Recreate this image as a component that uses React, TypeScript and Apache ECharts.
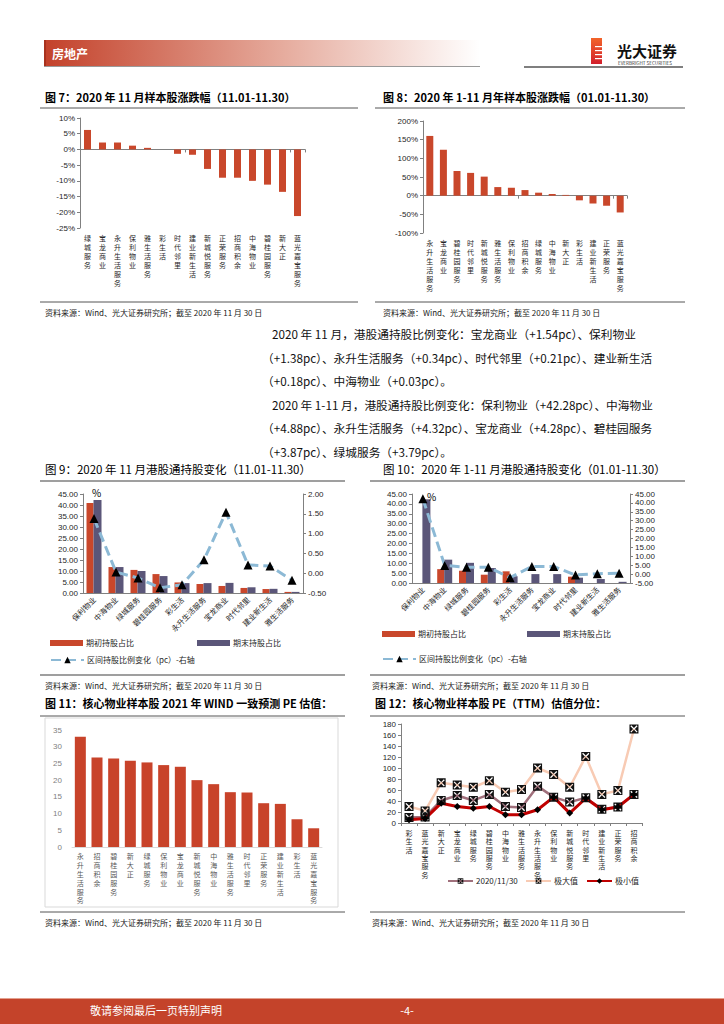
import React, { useEffect, useRef } from 'react';
import * as echarts from 'echarts';

const FONT = '"Noto Sans CJK SC", "Noto Sans", sans-serif';

// ---------- data ----------
const fig7Cats = ['绿城服务', '宝龙商业', '永升生活服务', '保利物业', '雅生活服务', '彩生活', '时代邻里', '建业新生活', '新城悦服务', '正荣服务', '招商积余', '中海物业', '碧桂园服务', '新大正', '蓝光嘉宝服务'];
const fig7Vals = [6.2, 2.2, 2.2, 1.2, 0.5, 0, -1.4, -1.7, -6.2, -9.0, -9.0, -10.0, -11.2, -13.5, -21.2];

const fig8Cats = ['永升生活服务', '宝龙商业', '碧桂园服务', '时代邻里', '新城悦服务', '雅生活服务', '保利物业', '招商积余', '绿城服务', '中海物业', '新大正', '彩生活', '建业新生活', '正荣服务', '蓝光嘉宝服务'];
const fig8Vals = [160, 123, 66, 61, 51, 23, 21, 15, 8, 4.5, 2, -12.5, -21, -27, -45];

const hkCats = ['保利物业', '中海物业', '绿城服务', '碧桂园服务', '彩生活', '永升生活服务', '宝龙商业', '时代邻里', '建业新生活', '雅生活服务'];
const fig9Start = [40.9, 11.8, 10.5, 8.6, 4.8, 4.1, 3.2, 2.3, 1.8, 0.5];
const fig9End = [42.3, 11.8, 10.0, 7.7, 4.5, 4.5, 4.6, 2.6, 1.9, 0.5];
const fig9Chg = [1.38, 0.03, -0.12, -0.37, -0.29, 0.34, 1.54, 0.21, 0.18, -0.18];

const fig10Start = [0, 7.0, 6.2, 4.2, 5.9, 0, 0, 3.2, 0, 0];
const fig10End = [42.3, 11.8, 10.2, 7.6, 3.4, 4.5, 4.5, 2.7, 2.0, 0.6];
const fig10Chg = [42.28, 4.88, 3.79, 3.87, -2.0, 4.32, 4.28, -0.5, 0.2, 0.5];

const fig11Cats = ['永升生活服务', '招商积余', '碧桂园服务', '新大正', '绿城服务', '保利物业', '宝龙商业', '新城悦服务', '中海物业', '雅生活服务', '时代邻里', '正荣服务', '建业新生活', '彩生活', '蓝光嘉宝服务'];
const fig11Vals = [33.0, 26.8, 26.5, 25.8, 25.3, 24.5, 24.0, 20.0, 18.8, 16.4, 16.3, 13.1, 12.9, 8.3, 5.6];

const fig12Cats = ['彩生活', '蓝光嘉宝服务', '新大正', '宝龙商业', '绿城服务', '碧桂园服务', '中海物业', '雅生活服务', '永升生活服务', '保利物业', '新城悦服务', '时代邻里', '建业新生活', '正荣服务', '招商积余'];
const fig12Cur = [10, 11, 41, 50, 41, 52, 30, 28, 67, 47, 38, 46, 25, 29, 52];
const fig12Max = [30, 22, 73, 69, 65, 77, 56, 61, 100, 88, 65, 121, 52, 59, 171];
const fig12Min = [6, 8, 36, 30, 27, 30, 15, 15, 24, 47, 18, 45, 24, 29, 52];

const paraLines = [
  '2020 年 11 月，港股通持股比例变化：宝龙商业（+1.54pc）、保利物业',
  '（+1.38pc）、永升生活服务（+0.34pc）、时代邻里（+0.21pc）、建业新生活',
  '（+0.18pc）、中海物业（+0.03pc）。',
  '2020 年 1-11 月，港股通持股比例变化：保利物业（+42.28pc）、中海物业',
  '（+4.88pc）、永升生活服务（+4.32pc）、宝龙商业（+4.28pc）、碧桂园服务',
  '（+3.87pc）、绿城服务（+3.79pc）。',
];

const SOURCE = '资料来源：Wind、光大证券研究所；截至 2020 年 11 月 30 日';

// ---------- styling ----------
const RED = '#C9472B';
const PURPLE = '#5B5679';
const BLUE = '#8CB9D5';
const AXIS = '#808080';
const LBL = '#262626';
const MARK_X = 'path://M0,0H10V10H0Z M2,1L1,2L4,5L1,8L2,9L5,6L8,9L9,8L6,5L9,2L8,1L5,4Z';

const vert = (v: string) => v.split('').join('\n');
const fx2 = (v: number) => v.toFixed(2);

function txt(x: number, y: number, text: string, o: any = {}) {
  return {
    type: 'text',
    x,
    y,
    z: 10,
    style: {
      text,
      fill: o.color || '#000',
      fontSize: o.size || 12,
      fontFamily: FONT,
      fontWeight: o.bold ? 'bold' : 'normal',
      textAlign: o.align || 'left',
      textVerticalAlign: 'middle',
    },
  };
}
function ln(x1: number, y1: number, x2: number, y2: number, color = '#555', w = 1) {
  return { type: 'line', z: 10, shape: { x1, y1, x2, y2 }, style: { stroke: color, lineWidth: w } };
}

function buildOption(): any {
  const grids = [
    { left: 80, top: 118, width: 225, height: 110 },
    { left: 423, top: 121, width: 204, height: 112 },
    { left: 83, top: 494, width: 220, height: 99 },
    { left: 412, top: 494, width: 218, height: 89 },
    { left: 72, top: 730, width: 250, height: 117 },
    { left: 401, top: 724, width: 241, height: 99 },
  ].map((g) => ({ ...g, outerBoundsMode: 'none', containLabel: false }));

  const vertLabel = { interval: 0, formatter: vert, fontSize: 7, lineHeight: 9, color: LBL, margin: 5, fontFamily: FONT };
  const rotLabel = { interval: 0, rotate: 45, fontSize: 7.5, color: LBL, margin: 5, fontFamily: FONT };
  const valLabel = { fontSize: 8, color: LBL, margin: 5, fontFamily: 'Arial, "Liberation Sans", sans-serif' };

  const xAxis = [
    // 0 fig7 zero line
    { type: 'category', gridIndex: 0, data: fig7Cats, position: 'bottom', axisLine: { onZero: true, lineStyle: { color: AXIS } }, axisTick: { show: true, length: 3, lineStyle: { color: AXIS } }, axisLabel: { show: false } },
    // 1 fig7 labels
    { type: 'category', gridIndex: 0, data: fig7Cats, position: 'bottom', axisLine: { show: false, onZero: false }, axisTick: { show: false }, axisLabel: vertLabel },
    // 2 fig8 zero line
    { type: 'category', gridIndex: 1, data: fig8Cats, position: 'bottom', axisLine: { onZero: true, lineStyle: { color: AXIS } }, axisTick: { show: true, length: 3, lineStyle: { color: AXIS } }, axisLabel: { show: false } },
    // 3 fig8 labels
    { type: 'category', gridIndex: 1, data: fig8Cats, position: 'bottom', axisLine: { show: false, onZero: false }, axisTick: { show: false }, axisLabel: vertLabel },
    // 4 fig9
    { type: 'category', gridIndex: 2, data: hkCats, axisLine: { lineStyle: { color: AXIS } }, axisTick: { show: false }, axisLabel: rotLabel },
    // 5 fig10
    { type: 'category', gridIndex: 3, data: hkCats, axisLine: { lineStyle: { color: AXIS } }, axisTick: { show: false }, axisLabel: rotLabel },
    // 6 fig11
    { type: 'category', gridIndex: 4, data: fig11Cats, axisLine: { lineStyle: { color: '#D9D9D9' } }, axisTick: { show: false }, axisLabel: { ...vertLabel, color: '#595959', lineHeight: 8.8 } },
    // 7 fig12
    { type: 'category', gridIndex: 5, data: fig12Cats, axisLine: { lineStyle: { color: AXIS } }, axisTick: { show: true, length: 3, lineStyle: { color: AXIS } }, axisLabel: { ...vertLabel, lineHeight: 8.3, margin: 6 } },
  ];

  const yBase = { type: 'value', splitLine: { show: false }, axisLine: { show: true, lineStyle: { color: AXIS } }, axisTick: { show: true, length: 3, lineStyle: { color: AXIS } } };
  const yAxis = [
    { ...yBase, gridIndex: 0, min: -25, max: 10, interval: 5, axisLabel: { ...valLabel, formatter: '{value}%' } },
    { ...yBase, gridIndex: 1, min: -100, max: 200, interval: 50, axisLabel: { ...valLabel, formatter: '{value}%' } },
    { ...yBase, gridIndex: 2, min: 0, max: 45, interval: 5, axisLabel: { ...valLabel, formatter: fx2 } },
    { ...yBase, gridIndex: 2, position: 'right', min: -0.5, max: 2, interval: 0.5, axisLabel: { ...valLabel, formatter: fx2 } },
    { ...yBase, gridIndex: 3, min: 0, max: 45, interval: 5, axisLabel: { ...valLabel, formatter: fx2 } },
    { ...yBase, gridIndex: 3, position: 'right', min: -5, max: 45, interval: 5, axisLabel: { ...valLabel, formatter: fx2 } },
    { type: 'value', gridIndex: 4, min: 0, max: 35, interval: 5, splitLine: { show: false }, axisLine: { show: false }, axisTick: { show: false }, axisLabel: { ...valLabel, color: '#7F7F7F', margin: 10 } },
    { ...yBase, gridIndex: 5, min: 0, max: 180, interval: 20, axisLabel: { ...valLabel } },
  ];

  const chgLine = (name: string, x: number, y: number, data: number[]) => ({
    type: 'line', name, xAxisIndex: x, yAxisIndex: y, data,
    lineStyle: { color: BLUE, width: 3, type: [10, 5] },
    symbol: 'triangle', symbolSize: 9, itemStyle: { color: '#000' }, z: 5,
  });

  const series = [
    { type: 'bar', name: 'f7', xAxisIndex: 0, yAxisIndex: 0, data: fig7Vals, barWidth: 7, itemStyle: { color: RED } },
    { type: 'bar', name: 'f8', xAxisIndex: 2, yAxisIndex: 1, data: fig8Vals, barWidth: 7, itemStyle: { color: RED } },
    { type: 'bar', name: '期初持股占比', xAxisIndex: 4, yAxisIndex: 2, data: fig9Start, barWidth: 7, barGap: '0%', itemStyle: { color: RED } },
    { type: 'bar', name: '期末持股占比', xAxisIndex: 4, yAxisIndex: 2, data: fig9End, barWidth: 8, barGap: '0%', itemStyle: { color: PURPLE } },
    chgLine('区间持股比例变化（pc）-右轴', 4, 3, fig9Chg),
    { type: 'bar', name: '期初持股占比', xAxisIndex: 5, yAxisIndex: 4, data: fig10Start, barWidth: 7, barGap: '0%', itemStyle: { color: RED } },
    { type: 'bar', name: '期末持股占比', xAxisIndex: 5, yAxisIndex: 4, data: fig10End, barWidth: 8, barGap: '0%', itemStyle: { color: PURPLE } },
    chgLine('区间持股比例变化（pc）-右轴', 5, 5, fig10Chg),
    { type: 'bar', name: 'f11', xAxisIndex: 6, yAxisIndex: 6, data: fig11Vals, barWidth: 11, itemStyle: { color: '#C8432A' } },
    { type: 'line', name: '极大值', xAxisIndex: 7, yAxisIndex: 7, data: fig12Max, lineStyle: { color: '#F8CBB4', width: 2.5 }, symbol: MARK_X, symbolSize: 9, itemStyle: { color: '#111' } },
    { type: 'line', name: '2020/11/30', xAxisIndex: 7, yAxisIndex: 7, data: fig12Cur, lineStyle: { color: '#A0707C', width: 2.5 }, symbol: MARK_X, symbolSize: 9, itemStyle: { color: '#111' } },
    { type: 'line', name: '极小值', xAxisIndex: 7, yAxisIndex: 7, data: fig12Min, lineStyle: { color: '#C00000', width: 3 }, symbol: 'diamond', symbolSize: 7, itemStyle: { color: '#000' } },
  ];

  const lg = (name: string, left: number, top: number, w = 33, h = 6, icon?: string) => ({
    data: [icon ? { name, icon } : name], left, top, padding: 0, itemWidth: w, itemHeight: h, selectedMode: false,
    textStyle: { fontSize: 8, color: LBL, fontFamily: FONT, padding: [0, 0, 0, -2] },
  });
  const legend = [
    lg('期初持股占比', 50, 639, 33, 6, 'rect'),
    lg('期末持股占比', 197, 639, 33, 6, 'rect'),
    lg('区间持股比例变化（pc）-右轴', 50, 656, 33, 8),
    lg('期初持股占比', 382, 630, 33, 6, 'rect'),
    lg('期末持股占比', 527, 630, 33, 6, 'rect'),
    lg('区间持股比例变化（pc）-右轴', 382, 655, 33, 8),
    lg('2020/11/30', 447, 877, 25, 7),
    lg('极大值', 525, 877, 25, 7),
    lg('极小值', 586, 877, 25, 7),
  ];

  const g: any[] = [];
  // header
  g.push({
    type: 'rect', shape: { x: 44, y: 40, width: 436, height: 26 },
    style: { fill: { type: 'linear', x: 0, y: 0, x2: 1, y2: 0, colorStops: [{ offset: 0, color: '#C3412A' }, { offset: 0.55, color: '#E6AC9E' }, { offset: 1, color: 'rgba(255,255,255,1)' }] } },
  });
  g.push({ type: 'rect', shape: { x: 44, y: 40, width: 2, height: 26 }, style: { fill: '#A8321E' } });
  g.push(ln(44, 66.5, 480, 66.5, '#9A9A9A', 1));
  g.push(txt(52, 53, '房地产', { color: '#fff', bold: true, size: 12 }));
  // logo
  g.push({
    type: 'rect', shape: { x: 591, y: 38, width: 11, height: 26 },
    style: { fill: { type: 'linear', x: 0, y: 0, x2: 0, y2: 1, colorStops: [{ offset: 0, color: '#F2642A' }, { offset: 1, color: '#D21F2B' }] } },
  });
  [46, 50, 54, 58].forEach((yy) => g.push({ type: 'rect', shape: { x: 595, y: yy, width: 7, height: 1.2 }, style: { fill: '#fff' } }));
  g.push(txt(617, 50, '光大证券', { size: 15, bold: true, color: '#111' }));
  g.push(txt(618, 62.5, 'EVERBRIGHT SECURITIES', { size: 4.6, color: '#333' }));
  g.push(ln(524, 67, 683, 67, '#7F7F7F', 2));

  // fig7 / fig8
  g.push(txt(45, 97, '图 7：2020 年 11 月样本股涨跌幅（11.01-11.30）', { bold: true, size: 11 }));
  g.push(txt(383, 97, '图 8：2020 年 1-11 月年样本股涨跌幅（01.01-11.30）', { bold: true, size: 11 }));
  g.push(ln(40, 108, 358, 108, '#555', 1));
  g.push(ln(375, 108, 685, 108, '#555', 1));
  g.push(ln(40, 302, 358, 302, '#555', 1));
  g.push(ln(375, 302, 685, 302, '#555', 1));
  g.push(txt(45, 312, SOURCE, { size: 8, color: '#222' }));
  g.push(txt(383, 312, SOURCE, { size: 8, color: '#222' }));

  // paragraph
  const px = [272, 262, 262, 272, 262, 262];
  const py = [333, 357, 380, 404, 427, 451];
  paraLines.forEach((t, i) => g.push(txt(px[i], py[i], t, { size: 11.7, color: '#111' })));

  // fig9 / fig10
  g.push(txt(45, 469, '图 9：2020 年 11 月港股通持股变化（11.01-11.30）', { size: 11.5 }));
  g.push(txt(383, 469, '图 10：2020 年 1-11 月港股通持股变化（01.01-11.30）', { size: 11.5 }));
  g.push(ln(40, 481, 345, 481, '#7F7F7F', 1.5));
  g.push(ln(370, 481, 685, 481, '#7F7F7F', 1.5));
  g.push(ln(40, 675, 345, 675, '#7F7F7F', 1.5));
  g.push(ln(370, 675, 685, 675, '#7F7F7F', 1.5));
  g.push(txt(92, 492, '%', { size: 10 }));
  g.push(txt(427, 496, '%', { size: 10 }));
  g.push(txt(45, 685, SOURCE, { size: 8, color: '#222' }));
  g.push(txt(372, 685, SOURCE, { size: 8, color: '#222' }));

  // fig11 / fig12
  g.push(txt(45, 703, '图 11：核心物业样本股 2021 年 WIND 一致预测 PE 估值：', { bold: true, size: 11 }));
  g.push(txt(375, 703, '图 12：核心物业样本股 PE（TTM）估值分位：', { bold: true, size: 11 }));
  g.push(ln(40, 716, 345, 716, '#555', 1));
  g.push(ln(370, 716, 685, 716, '#555', 1));
  g.push({ type: 'rect', shape: { x: 45, y: 718, width: 293, height: 189 }, style: { fill: 'none', stroke: '#D9D9D9', lineWidth: 1 } });
  g.push(ln(40, 912, 345, 912, '#555', 1));
  g.push(ln(370, 912, 685, 912, '#555', 1));
  g.push(txt(45, 922, SOURCE, { size: 8, color: '#222' }));
  g.push(txt(372, 922, SOURCE, { size: 8, color: '#222' }));

  // footer
  g.push({ type: 'rect', shape: { x: 0, y: 998, width: 724, height: 26 }, style: { fill: '#C4432A' } });
  g.push(ln(0, 998.5, 724, 998.5, '#E3A08F', 1));
  g.push(txt(90, 1010, '敬请参阅最后一页特别声明', { color: '#fff', size: 11 }));
  g.push(txt(407, 1010, '-4-', { color: '#fff', size: 11, align: 'center' }));

  return {
    animation: false,
    backgroundColor: '#fff',
    textStyle: { fontFamily: FONT },
    grid: grids,
    xAxis,
    yAxis,
    legend,
    series,
    graphic: { elements: g },
  };
}

export default function App() {
  const ref = useRef<HTMLDivElement>(null);
  useEffect(() => {
    if (!ref.current) return;
    const chart = echarts.init(ref.current, null, { renderer: 'svg' });
    chart.setOption(buildOption());
    return () => chart.dispose();
  }, []);
  return (
    <div
      ref={ref}
      style={{ position: 'absolute', left: 0, top: 0, width: 724, height: 1024, background: '#fff' }}
    />
  );
}
